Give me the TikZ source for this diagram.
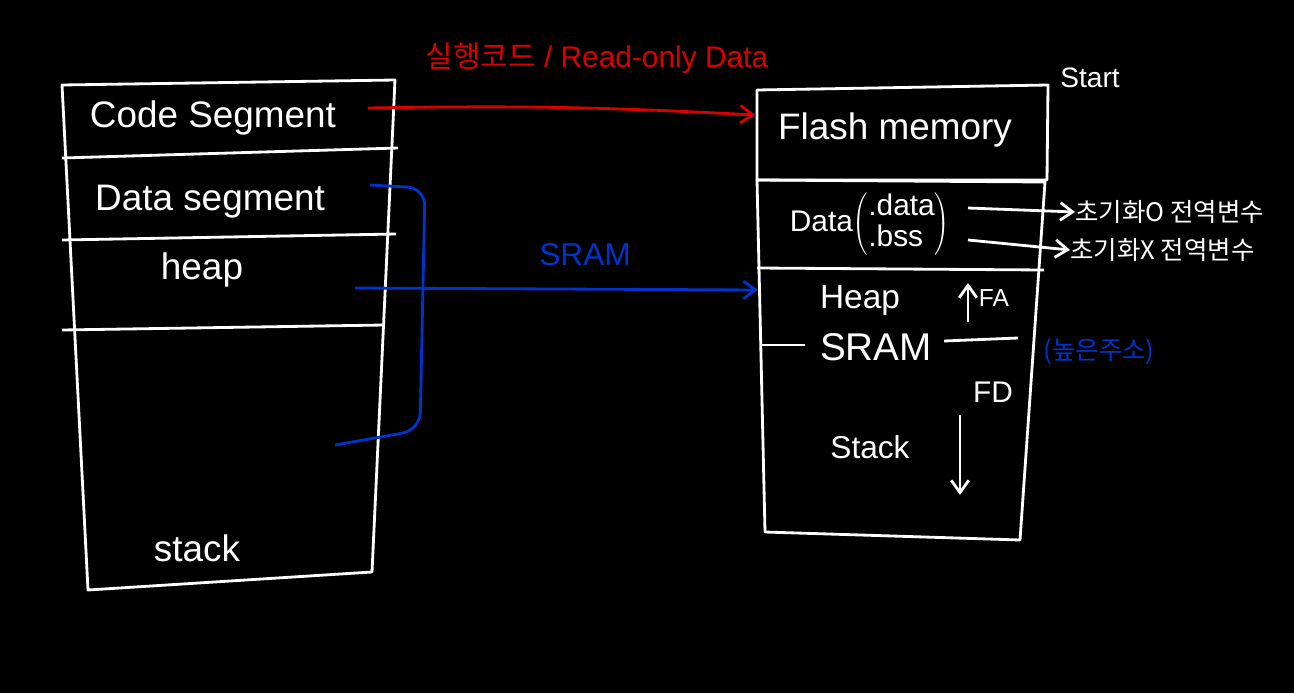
\documentclass[tikz,border=0pt]{standalone}
\usepackage{fontspec}
\setmainfont{Liberation Sans}
\newfontfamily\kor{Noto Sans CJK KR}
\usetikzlibrary{arrows.meta}
\begin{document}
\begin{tikzpicture}[x=0.02cm, y=-0.02cm,
    boxLine/.style={white, line width=1.6pt, line join=round},
    whiteText/.style={white, inner sep=0pt},
    redPen/.style={red!85!black, line width=1.6pt},
    bluePen/.style={blue!75!cyan!80!black, line width=1.6pt},
    penTip/.style={-{Straight Barb[length=7pt, width=10pt]}}]
    % Background
    \fill[black] (0,0) rectangle (1294,693);
    \useasboundingbox (0,0) rectangle (1294,693);

    % Left memory layout
    \draw[boxLine] (62,85) -- (395,80) -- (372,572) -- (88,590) -- cycle;
    \draw[boxLine] (62,158) -- (398,148);
    \draw[boxLine] (62,240) -- (396,234);
    \draw[boxLine] (62,330) -- (384,325);
    \node[whiteText, font=\fontsize{21}{25}\selectfont] (code) at (213,118) {Code Segment};
    \node[whiteText, font=\fontsize{21}{25}\selectfont] (data) at (210,202) {Data segment};
    \node[whiteText, font=\fontsize{21}{25}\selectfont] (heap) at (202,270) {heap};
    \node[whiteText, font=\fontsize{21}{25}\selectfont] (stack) at (197,548) {stack};

    % Right memory map
    \draw[boxLine] (757,90) -- (1048,85) -- (1047,180) -- (757,180) -- cycle;
    \draw[boxLine] (757,180) -- (1045,182) -- (1020,540) -- (765,532) -- cycle;
    \draw[boxLine] (757,268) -- (1044,270);
    \node[whiteText, font=\fontsize{21}{25}\selectfont] (flash) at (895,130) {Flash memory};
    \node[whiteText, font=\fontsize{16}{19}\selectfont] (start) at (1090,78) {Start};
    \node[whiteText, font=\fontsize{17}{20}\selectfont] (dataSec) at (870,224)
        {Data$\left(\begin{tabular}{@{}l@{}}.data\\[-2pt].bss\end{tabular}\right)$};
    \coordinate (dataEnd) at (968,208);
    \coordinate (bssEnd) at (968,240);
    \node[whiteText, font=\kor\fontsize{14.5}{17}\selectfont, anchor=west] (initO) at (1075,212) {초기화O 전역변수};
    \node[whiteText, font=\kor\fontsize{14.5}{17}\selectfont, anchor=west] (initX) at (1070,250) {초기화X 전역변수};
    \draw[boxLine, penTip] (dataEnd) -- (initO.west);
    \draw[boxLine, penTip] (bssEnd) -- (initX.west);

    % SRAM part
    \node[whiteText, font=\fontsize{19}{22}\selectfont] (heapR) at (860,300) {Heap};
    \node[whiteText, font=\fontsize{14}{17}\selectfont] (fa) at (994,298) {FA};
    \coordinate (faLow) at (968,322);
    \coordinate (faHigh) at (968,283);
    \draw[boxLine, penTip] (faLow) -- (faHigh);
    \node[whiteText, font=\fontsize{22}{26}\selectfont] (sram) at (876,347) {SRAM};
    \coordinate (sramL) at (760,345);
    \coordinate (sramR) at (1018,338);
    \draw[boxLine] (sramL) -- ++(45,0);
    \draw[boxLine] (sram.east) ++(12,-6) -- (sramR);
    \node[whiteText, font=\fontsize{17}{20}\selectfont] (fd) at (993,392) {FD};
    \node[whiteText, font=\fontsize{18}{21}\selectfont] (stackR) at (870,447) {Stack};
    \coordinate (fdHigh) at (960,415);
    \coordinate (fdLow) at (960,495);
    \draw[boxLine, penTip] (fdHigh) -- (fdLow);
    \node[font=\kor\fontsize{14.5}{17}\selectfont, text=blue!75!cyan!80!black, inner sep=0pt] (high) at (1099,352) {(높은주소)};

    % Code -> Flash
    \coordinate (codeEnd) at (368,108);
    \coordinate (flashIn) at (755,115);
    \draw[redPen, penTip] (codeEnd) to[bend left=2] (flashIn);
    \node[font=\fontsize{17}{20}\selectfont, text=red!85!black, inner sep=0pt] (roLabel) at (597,58)
        {{\kor 실행코드} / Read-only Data};

    % Data, heap, stack -> SRAM
    \coordinate (bracketTop) at (370,185);
    \coordinate (bracketEnd) at (335,445);
    \draw[bluePen, rounded corners=10pt] (bracketTop) -- (425,188) -- (420,430) -- (bracketEnd);
    \coordinate (heapEnd) at (355,288);
    \coordinate (sramIn) at (758,290);
    \draw[bluePen, penTip] (heapEnd) -- (sramIn);
    \node[font=\fontsize{18}{21}\selectfont, text=blue!75!cyan!80!black, inner sep=0pt] (sramLabel) at (585,255) {SRAM};
\end{tikzpicture}
\end{document}
